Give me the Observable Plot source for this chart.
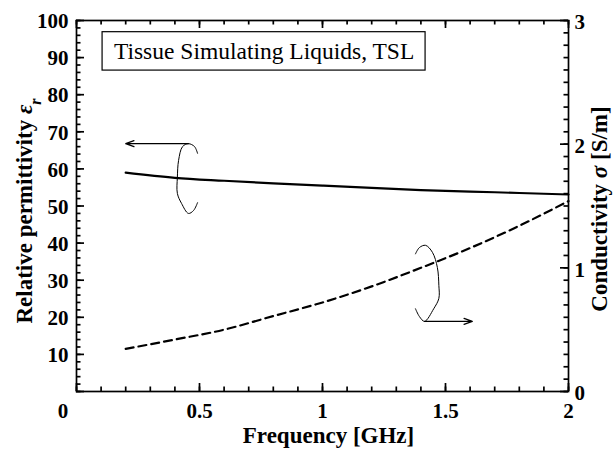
<!DOCTYPE html>
<html><head><meta charset="utf-8">
<script src="https://cdn.jsdelivr.net/npm/d3@7"></script>
<script src="https://cdn.jsdelivr.net/npm/@observablehq/plot@0.6"></script>
<style>body{margin:0;background:#fff}</style>
</head><body><div id="chart"></div>
<script>
// Data
const freq = [0.2, 0.4, 0.6, 0.8, 1.0, 1.2, 1.4, 1.6, 1.8, 2.0];
const permittivity = [59.0, 57.6, 56.8, 56.1, 55.5, 54.9, 54.3, 53.9, 53.5, 53.1];
const conductivity = [0.345, 0.42, 0.50, 0.61, 0.72, 0.85, 1.00, 1.16, 1.34, 1.54];

// Tick labels
const xTickLabels = [0.5, 1, 1.5, 2];
const leftTickLabels = [10, 20, 30, 40, 50, 60, 70, 80, 90, 100];
const rightTickLabels = [0, 1, 2, 3];
const legendText = "Tissue Simulating Liquids, TSL";

// Annotation shapes (data units: GHz, permittivity)
const loopLeftF = [0.492, 0.48, 0.455, 0.431, 0.415, 0.41, 0.41, 0.427, 0.455, 0.476, 0.492];
const loopLeftE = [64.2, 66.0, 66.8, 66.0, 62.3, 57.7, 53.4, 50.7, 48.0, 48.8, 50.9];
const loopRightF = [1.378, 1.394, 1.419, 1.447, 1.467, 1.473, 1.473, 1.452, 1.415, 1.394, 1.378];
const loopRightE = [37.1, 38.8, 39.4, 37.5, 33.4, 28.6, 25.1, 22.3, 18.9, 20.2, 22.3];
const arrowsF1 = [0.455, 1.415];
const arrowsF2 = [0.2, 1.609];
const arrowsE = [66.8, 18.9];
const legendBoxF = [0.106, 1.419];
const legendBoxE = [86.5, 96.85];

const sigmaMax = 3, epsMax = 100, k = epsMax / sigmaMax;

const eps = freq.map((f, i) => ({f, v: permittivity[i]}));
const sig = freq.map((f, i) => ({f, v: conductivity[i] * k}));
const loopL = loopLeftF.map((f, i) => ({f, v: loopLeftE[i]}));
const loopR = loopRightF.map((f, i) => ({f, v: loopRightE[i]}));
const arrows = arrowsF1.map((f, i) => ({x1: f, x2: arrowsF2[i], y: arrowsE[i]}));

const xMinor = d3.range(0, 21).map(i => i / 10);
const xMajor = [0, 0.5, 1, 1.5, 2];
const yMinor = d3.range(0, 51).map(i => i * 2);
const yMajor = d3.range(0, 11).map(i => i * 10);
const rMinor = d3.range(0, 31).map(i => i / 10 * k);
const rMajor = rightTickLabels.map(d => d * k);

const serif = "'Liberation Serif', 'Times New Roman', serif";
const W = 614, H = 449, mL = 76, mR = 46, mT = 20, mB = 58;
const FW = W - mL - mR, FH = H - mT - mB;
const minor = 4.5, major = 8, tw = 1.7;

const chart = Plot.plot({
  width: W, height: H,
  marginLeft: mL, marginRight: mR, marginTop: mT, marginBottom: mB,
  style: {fontFamily: serif, background: "#fff", color: "#000"},
  x: {domain: [0, 2], axis: null},
  y: {domain: [0, 100], axis: null},
  marks: [
    // inward ticks (frame-spanning ticks cut to tick length with insets)
    Plot.tickX(xMinor, {x: d => d, stroke: "#000", strokeWidth: tw, insetTop: FH - minor}),
    Plot.tickX(xMajor, {x: d => d, stroke: "#000", strokeWidth: tw, insetTop: FH - major}),
    Plot.tickX(xMinor, {x: d => d, stroke: "#000", strokeWidth: tw, insetBottom: FH - minor}),
    Plot.tickX(xMajor, {x: d => d, stroke: "#000", strokeWidth: tw, insetBottom: FH - major}),
    Plot.tickY(yMinor, {y: d => d, stroke: "#000", strokeWidth: tw, insetRight: FW - minor}),
    Plot.tickY(yMajor, {y: d => d, stroke: "#000", strokeWidth: tw, insetRight: FW - major}),
    Plot.tickY(rMinor, {y: d => d, stroke: "#000", strokeWidth: tw, insetLeft: FW - minor}),
    Plot.tickY(rMajor, {y: d => d, stroke: "#000", strokeWidth: tw, insetLeft: FW - major}),
    Plot.frame({stroke: "#000", strokeWidth: 1.7}),
    // tick labels
    Plot.text(leftTickLabels, {y: d => d, text: d => String(d), frameAnchor: "left", dx: -8, dy: 1,
      textAnchor: "end", fontSize: 21, fontWeight: "bold", fontFamily: serif}),
    Plot.text(xTickLabels, {x: d => d, text: d => String(d), frameAnchor: "bottom", dy: 12,
      lineAnchor: "top", fontSize: 21, fontWeight: "bold", fontFamily: serif}),
    Plot.text([0], {x: d => d, text: d => String(d), frameAnchor: "bottom", dx: -13.5, dy: 12,
      lineAnchor: "top", fontSize: 21, fontWeight: "bold", fontFamily: serif}),
    Plot.text(rightTickLabels, {y: d => d * k, text: d => String(d), frameAnchor: "right", dx: 6, dy: 2,
      textAnchor: "start", fontSize: 21, fontWeight: "bold", fontFamily: serif}),
    // axis title
    Plot.text(["Frequency [GHz]"], {text: d => d, frameAnchor: "bottom", dy: 51, dx: 6,
      lineAnchor: "bottom", fontSize: 23, fontWeight: "bold", fontFamily: serif}),
    // legend box
    Plot.rect([0], {x1: legendBoxF[0], x2: legendBoxF[1], y1: legendBoxE[0], y2: legendBoxE[1],
      fill: "#fff", stroke: "#000", strokeWidth: 1.2}),
    Plot.text([legendText], {x: (legendBoxF[0] + legendBoxF[1]) / 2, y: (legendBoxE[0] + legendBoxE[1]) / 2,
      text: d => d, fontSize: 23.5, fontWeight: "normal", fontFamily: serif}),
    // data
    Plot.line(eps, {x: "f", y: "v", stroke: "#000", strokeWidth: 2.2, curve: "monotone-x"}),
    Plot.line(sig, {x: "f", y: "v", stroke: "#000", strokeWidth: 2.2, strokeDasharray: "8,5", curve: "monotone-x"}),
    // annotations
    Plot.line(loopL, {x: "f", y: "v", stroke: "#000", strokeWidth: 1, curve: "catmull-rom"}),
    Plot.line(loopR, {x: "f", y: "v", stroke: "#000", strokeWidth: 1, curve: "catmull-rom"}),
    Plot.arrow(arrows, {x1: "x1", x2: "x2", y1: "y", y2: "y", stroke: "#000", strokeWidth: 1.2,
      headLength: 11, headAngle: 40})
  ]
});

// rotated axis titles with italic symbols, as real SVG text
const svg = d3.select(chart);
function vTitle(x, y, parts) {
  const t = svg.append("text")
    .attr("transform", `translate(${x},${y}) rotate(-90)`)
    .attr("text-anchor", "middle")
    .style("font-family", serif).attr("font-size", 23).attr("font-weight", "bold");
  for (const p of parts) {
    const s = t.append("tspan").text(p.t);
    if (p.italic) s.attr("font-style", "italic");
    if (p.sub) s.attr("baseline-shift", "sub").attr("font-size", 16);
  }
  return t;
}
vTitle(32, 211, [{t: "Relative permittivity "}, {t: "ε", italic: true}, {t: "r", italic: true, sub: true}]);
vTitle(607, 209, [{t: "Conductivity "}, {t: "σ", italic: true}, {t: " [S/m]"}]);

document.getElementById("chart").append(chart);
</script>
</body></html>
